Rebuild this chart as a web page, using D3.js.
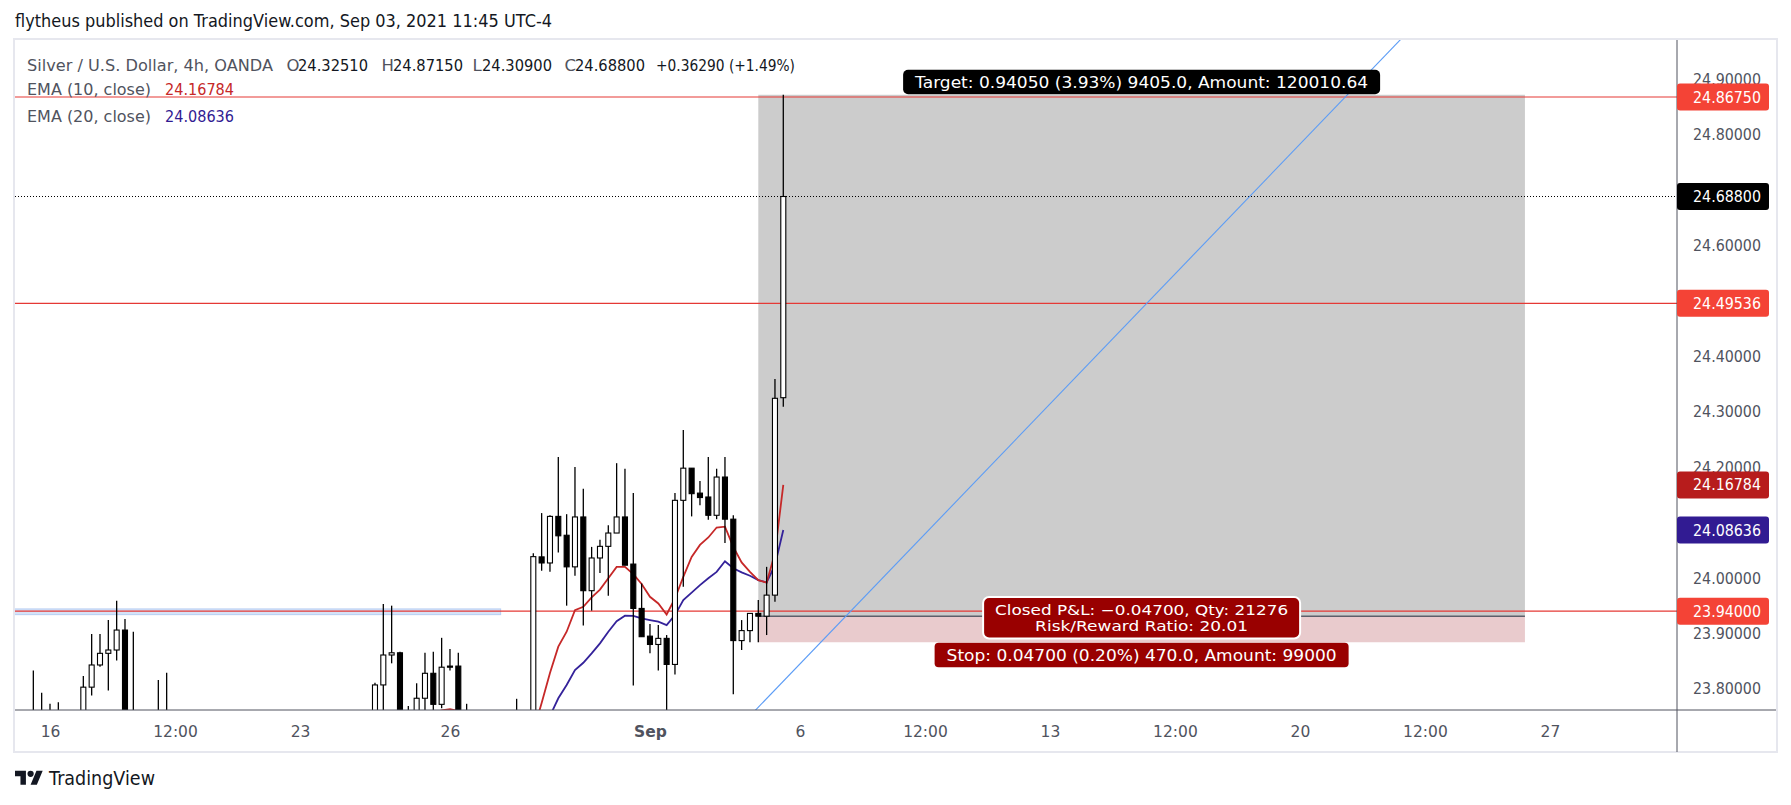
<!DOCTYPE html>
<html><head><meta charset="utf-8">
<script src="https://cdn.jsdelivr.net/npm/d3@7"></script>
<style>html,body{margin:0;padding:0;background:#fff;} svg{display:block;font-family:"DejaVu Sans",sans-serif;}</style>
</head><body><svg id="c" width="1791" height="805"></svg>
<script>
// ---------------- DATA ----------------
const opens  = [23.72,23.70,23.68,23.66,23.70,23.69,23.73,23.803,23.843,23.864,23.870,23.906,23.73,23.71,23.69,23.67,23.72,
  23.70,23.62,23.55,23.58,23.61,23.65,23.62,23.57,23.60,23.63,23.67,23.64,23.66,23.62,23.65,23.69,23.66,23.61,23.64,23.68,23.70,23.67,23.71,23.69,
  23.72,23.807,23.861,23.865,23.72,23.70,23.783,23.828,23.772,23.841,23.841,23.73,23.69,23.66,23.64,23.67,23.65,23.69,23.72,
  23.70,24.038,24.027,24.111,24.077,24.020,24.110,23.977,24.036,24.057,24.081,24.110,24.025,23.945,23.895,23.880,23.891,
  23.844,24.140,24.198,24.153,24.146,24.113,24.182,24.106,23.887,23.905,23.936,23.931,23.969,24.3251];
const highs  = [23.833,23.793,23.773,23.776,23.745,23.75,23.823,23.899,23.899,23.924,23.959,23.926,23.903,23.75,23.74,23.816,23.829,
  23.74,23.66,23.60,23.64,23.68,23.70,23.67,23.63,23.66,23.70,23.72,23.69,23.71,23.68,23.72,23.74,23.70,23.67,23.71,23.74,23.75,23.73,23.75,23.745,
  23.811,23.953,23.950,23.867,23.769,23.810,23.865,23.867,23.892,23.872,23.865,23.773,23.74,23.72,23.70,23.73,23.71,23.782,23.755,
  24.0445,24.117,24.113,24.218,24.115,24.200,24.161,24.056,24.069,24.095,24.207,24.197,24.153,23.990,23.917,23.915,23.897,
  24.153,24.267,24.198,24.175,24.218,24.197,24.218,24.113,23.924,23.936,23.960,24.020,24.359,24.8715];
const lows   = [23.66,23.65,23.63,23.62,23.64,23.66,23.70,23.788,23.840,23.797,23.851,23.70,23.68,23.66,23.64,23.63,23.66,
  23.60,23.52,23.48,23.54,23.57,23.59,23.55,23.50,23.56,23.58,23.61,23.57,23.60,23.55,23.60,23.62,23.58,23.54,23.59,23.63,23.64,23.62,23.65,23.63,
  23.69,23.74,23.846,23.70,23.66,23.67,23.74,23.74,23.765,23.833,23.70,23.66,23.62,23.60,23.58,23.61,23.60,23.65,23.66,
  23.68,24.013,24.011,24.046,23.950,24.004,23.914,23.941,24.009,23.968,24.081,24.023,23.806,23.894,23.864,23.833,23.75,
  23.826,23.984,24.111,24.131,24.105,24.106,24.063,23.790,23.870,23.884,23.884,23.897,23.957,24.309];
const closes = [23.70,23.68,23.66,23.70,23.69,23.73,23.803,23.843,23.864,23.870,23.906,23.73,23.71,23.69,23.67,23.72,23.70,
  23.62,23.55,23.58,23.61,23.65,23.62,23.57,23.60,23.63,23.67,23.64,23.66,23.62,23.65,23.69,23.66,23.61,23.64,23.68,23.70,23.67,23.71,23.69,23.72,
  23.807,23.861,23.865,23.72,23.70,23.783,23.828,23.772,23.839,23.839,23.73,23.69,23.66,23.64,23.67,23.65,23.69,23.72,23.70,
  24.0384,24.027,24.111,24.076,24.020,24.110,23.977,24.036,24.057,24.081,24.110,24.023,23.945,23.894,23.880,23.891,23.844,
  24.140,24.198,24.152,24.145,24.113,24.182,24.106,23.887,23.905,23.936,23.931,23.969,24.324,24.688];

const ema10Start = 47;
const ema10 = [23.752,23.757,23.761,23.7635,23.760,23.750,23.740,23.728,23.720,23.712,23.708,23.707,23.705,23.722,
  23.7746,23.8287,23.876,23.903,23.942,23.948,23.965,23.979,23.9995,24.020,24.020,24.007,23.989,23.966,23.954,23.934,
  23.963,24.002,24.038,24.0595,24.073,24.091,24.0925,24.056,24.028,24.011,23.996,23.9915,24.045,24.16784];
const ema20Start = 58;
const ema20 = [23.690,23.692,23.700,23.712,23.751,23.783,23.807,23.834,23.847,23.864,23.882,23.903,23.922,23.932,
  23.9315,23.927,23.924,23.921,23.915,23.933,23.960,23.9735,23.987,23.9995,24.011,24.030,24.0175,24.010,24.004,23.996,
  23.992,24.023,24.08636];

const priceTicks = [23.8,23.9,24.0,24.1,24.2,24.3,24.4,24.5,24.6,24.7,24.8,24.9];
const timeTickBars = [2,17,32,50,74,92,107,122,137,152,167,182];
const timeTickLabels = ["16","12:00","23","26","Sep","6","12:00","13","12:00","20","12:00","27"];

const hLineValues = [24.8675, 24.49536, 23.94];
const lastPrice = 24.688;
const markerValues = [24.8675, 24.688, 24.49536, 24.16784, 24.08636, 23.94];
const markerColors = ["#f44336","#000000","#f44336","#b71c1c","#311b92","#f44336"];

const posStartBar = 87, posEndBar = 179;
const posEntry = 23.931, posStop = 23.884, posTarget = 24.8715;
const trendBars = [86.68, 157.64];
const trendPrices = [23.7618, 24.8706];
const bandBars = [-3, 56.08];
const bandPrices = [23.9338, 23.9441];

// ---------------- DRAW ----------------
const svg = d3.select("#c");
const x = d3.scaleLinear().domain([-2.2, 197.25]).range([15, 1677]);
const y = d3.scaleLinear().domain([23.7618, 24.9703]).range([710, 40]);
const fit = (sel, w) => sel.attr("textLength", w).attr("lengthAdjust", "spacingAndGlyphs");

svg.append("rect").attr("width",1791).attr("height",805).attr("fill","#fff");
svg.append("defs").append("clipPath").attr("id","plot")
  .append("rect").attr("x",15).attr("y",40).attr("width",1662).attr("height",670);

// title
fit(svg.append("text").attr("x",15).attr("y",21).attr("dy","0.35em").attr("font-size",17.5)
  .attr("fill","#131722").text("flytheus published on TradingView.com, Sep 03, 2021 11:45 UTC-4"), 537);

// frame
svg.append("rect").attr("x",14).attr("y",39).attr("width",1763).attr("height",713)
  .attr("fill","none").attr("stroke","#e6e7ee").attr("stroke-width",2);

const plot = svg.append("g").attr("clip-path","url(#plot)");

// band
plot.append("rect").attr("x",x(bandBars[0])).attr("width",x(bandBars[1])-x(bandBars[0]))
  .attr("y",y(bandPrices[1])).attr("height",y(bandPrices[0])-y(bandPrices[1]))
  .attr("fill","#d5e3f8").attr("stroke","#b7cff3").attr("stroke-width",1);

// position zones
const px0 = x(posStartBar), px1 = x(posEndBar);
plot.append("rect").attr("x",px0).attr("width",px1-px0).attr("y",y(posTarget))
  .attr("height",y(posEntry)-y(posTarget)).attr("fill","#cccccc");
plot.append("rect").attr("x",px0).attr("width",px1-px0).attr("y",y(posEntry))
  .attr("height",y(posStop)-y(posEntry)).attr("fill","#e9cbcd");
plot.append("line").attr("x1",px0).attr("x2",px1).attr("y1",y(posEntry)).attr("y2",y(posEntry))
  .attr("stroke","#5d606b").attr("stroke-width",1.5);

// horizontal lines
plot.selectAll("line.h").data(hLineValues).enter().append("line")
  .attr("x1",15).attr("x2",1677).attr("y1",d=>y(d)).attr("y2",d=>y(d))
  .attr("stroke","#e53935").attr("stroke-width",1.2);
plot.append("line").attr("x1",15).attr("x2",1677).attr("y1",y(lastPrice)).attr("y2",y(lastPrice))
  .attr("stroke","#000").attr("stroke-width",1).attr("stroke-dasharray","1,2");

// trend line
const tSlope = (trendPrices[1]-trendPrices[0])/(trendBars[1]-trendBars[0]);
const tb0 = 80, tb1 = 170;
plot.append("line").attr("x1",x(tb0)).attr("y1",y(trendPrices[0]+(tb0-trendBars[0])*tSlope))
  .attr("x2",x(tb1)).attr("y2",y(trendPrices[0]+(tb1-trendBars[0])*tSlope))
  .attr("stroke","#5b9cf6").attr("stroke-width",1.1);

// EMA lines
const lineGen = start => d3.line().x((d,k)=>x(start+k)).y(d=>y(d));
plot.append("path").attr("d",lineGen(ema20Start)(ema20)).attr("fill","none")
  .attr("stroke","#34229a").attr("stroke-width",1.8);
plot.append("path").attr("d",lineGen(ema10Start)(ema10)).attr("fill","none")
  .attr("stroke","#c62828").attr("stroke-width",1.8);

// candles
const bars = opens.map((o,i)=>({i, o, h:highs[i], l:lows[i], c:closes[i]}));
const cg = plot.append("g");
cg.selectAll("line").data(bars).enter().append("line")
  .attr("x1",d=>x(d.i)).attr("x2",d=>x(d.i)).attr("y1",d=>y(d.h)).attr("y2",d=>y(d.l))
  .attr("stroke","#000").attr("stroke-width",1.3);
cg.selectAll("rect").data(bars).enter().append("rect")
  .attr("x",d=>x(d.i)-2.5).attr("width",5)
  .attr("y",d=>y(Math.max(d.o,d.c)))
  .attr("height",d=>Math.max(1, y(Math.min(d.o,d.c))-y(Math.max(d.o,d.c))))
  .attr("fill",d=>d.c>=d.o?"#fff":"#000").attr("stroke","#000").attr("stroke-width",1.1);

// axes lines
svg.append("line").attr("x1",1677).attr("x2",1677).attr("y1",40).attr("y2",752).attr("stroke","#50535e");
svg.append("line").attr("x1",15).attr("x2",1776).attr("y1",710).attr("y2",710).attr("stroke","#50535e");

// price axis (labels hidden under a price marker are not drawn)
const visibleTicks = priceTicks.filter(t => markerValues.every(m => Math.abs(y(m)-y(t)) > 16));
const ya = svg.append("g").attr("transform","translate(1677,0)")
  .call(d3.axisRight(y).tickValues(visibleTicks).tickFormat(d3.format(".5f")).tickSize(0).tickPadding(16));
ya.select(".domain").remove();
ya.selectAll("text").attr("font-size",16).attr("fill","#50535e").attr("font-family","DejaVu Sans")
  .attr("textLength",68).attr("lengthAdjust","spacingAndGlyphs");

// time axis
const xa = svg.append("g").attr("transform","translate(0,710)")
  .call(d3.axisBottom(x).tickValues(timeTickBars).tickFormat((d,i)=>timeTickLabels[i]).tickSize(0));
xa.select(".domain").remove();
xa.selectAll("text").attr("y",22).attr("dy","0.35em").attr("font-size",15.5).attr("fill","#50535e")
  .attr("font-family","DejaVu Sans")
  .attr("font-weight",(d,i)=>timeTickLabels[i]==="Sep"?"bold":"normal");

// price markers
const mg = svg.append("g");
markerValues.forEach((v,k)=>{
  mg.append("rect").attr("x",1677).attr("y",y(v)-13.5).attr("width",92).attr("height",27)
    .attr("rx",3).attr("fill",markerColors[k]);
  fit(mg.append("text").attr("x",1693).attr("y",y(v)).attr("dy","0.35em").attr("font-size",16)
    .attr("fill","#fff").text(d3.format(".5f")(v)), 68);
});

// legend
const lg = svg.append("g").attr("font-size",16.5);
const ly = 65;
fit(lg.append("text").attr("x",27).attr("y",ly).attr("dy","0.35em").attr("fill","#50535e")
  .text("Silver / U.S. Dollar, 4h, OANDA"), 246);
const ohlcKeys = ["O","H","L","C"], ohlcKx = [286.5,381.5,472.5,564.5], ohlcVx = [298,393,482,575];
const ohlcVals = [opens[90], highs[90], lows[90], closes[90]];
ohlcKeys.forEach((k,j)=>{
  lg.append("text").attr("x",ohlcKx[j]).attr("y",ly).attr("dy","0.35em").attr("fill","#50535e").text(k);
  fit(lg.append("text").attr("x",ohlcVx[j]).attr("y",ly).attr("dy","0.35em").attr("fill","#131722")
    .text(d3.format(".5f")(ohlcVals[j])), 70);
});
fit(lg.append("text").attr("x",656).attr("y",ly).attr("dy","0.35em").attr("fill","#131722")
  .text("+0.36290 (+1.49%)"), 139);
fit(lg.append("text").attr("x",27).attr("y",89.5).attr("dy","0.35em").attr("fill","#50535e")
  .text("EMA (10, close)"), 124);
fit(lg.append("text").attr("x",165).attr("y",89.5).attr("dy","0.35em").attr("fill","#c62828")
  .text(d3.format(".5f")(ema10[ema10.length-1])), 69);
fit(lg.append("text").attr("x",27).attr("y",116).attr("dy","0.35em").attr("fill","#50535e")
  .text("EMA (20, close)"), 124);
fit(lg.append("text").attr("x",165).attr("y",116).attr("dy","0.35em").attr("fill","#311b92")
  .text(d3.format(".5f")(ema20[ema20.length-1])), 69);

// position labels
const pcx = (px0+px1)/2;
const tg = svg.append("g").attr("font-size",16.5).attr("text-anchor","middle");
tg.append("rect").attr("x",pcx-238.5).attr("y",y(posTarget)-25).attr("width",477).attr("height",24.5)
  .attr("rx",5).attr("fill","#000");
fit(tg.append("text").attr("x",pcx).attr("y",y(posTarget)-12.6).attr("dy","0.35em").attr("fill","#fff")
  .text("Target: 0.94050 (3.93%) 9405.0, Amount: 120010.64"), 453);
tg.append("rect").attr("x",pcx-158.5).attr("y",597).attr("width",317).attr("height",41.5)
  .attr("rx",6).attr("fill","#990000").attr("stroke","#fff").attr("stroke-width",2);
fit(tg.append("text").attr("x",pcx).attr("y",610).attr("dy","0.35em").attr("fill","#fff")
  .attr("font-size",13.5).text("Closed P&L: \u22120.04700, Qty: 21276"), 293);
fit(tg.append("text").attr("x",pcx).attr("y",626.5).attr("dy","0.35em").attr("fill","#fff")
  .attr("font-size",13.5).text("Risk/Reward Ratio: 20.01"), 213);
tg.append("rect").attr("x",pcx-207).attr("y",y(posStop)+0.5).attr("width",414).attr("height",24.5)
  .attr("rx",4).attr("fill","#990000");
fit(tg.append("text").attr("x",pcx).attr("y",y(posStop)+12.8).attr("dy","0.35em").attr("fill","#fff")
  .text("Stop: 0.04700 (0.20%) 470.0, Amount: 99000"), 390);

// TradingView logo
const logo = svg.append("g").attr("transform","translate(15,767.6) scale(0.78)").attr("fill","#131722");
logo.append("path").attr("d","M14 22H7V11H0V4h14v18zM28 22h-8l7.5-18h8L28 22z");
logo.append("circle").attr("cx",20).attr("cy",8).attr("r",4);
fit(svg.append("text").attr("x",49).attr("y",778).attr("dy","0.35em").attr("font-size",19)
  .attr("fill","#131722").text("TradingView"), 106);
</script></body></html>
